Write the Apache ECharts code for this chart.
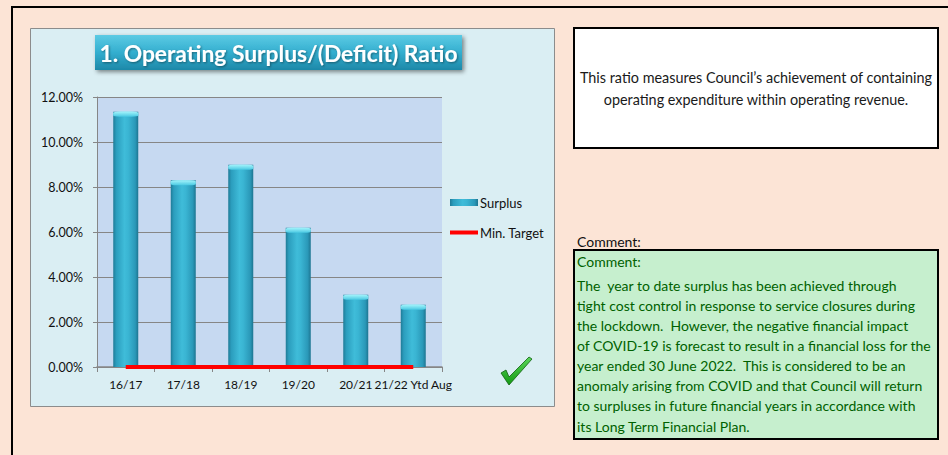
<!DOCTYPE html>
<html>
<head>
<meta charset="utf-8">
<script src="https://cdn.jsdelivr.net/npm/echarts@6/dist/echarts.min.js"></script>
<style>
  html, body { margin: 0; padding: 0; background: #FCE4D6; }
  #chart { width: 948px; height: 455px; }
</style>
</head>
<body>
<div id="chart"></div>
<script>
// Financial years shown on the category axis
const categories = ['16/17', '17/18', '18/19', '19/20', '20/21', '21/22 Ytd Aug'];
// Operating surplus ratio per year (fraction of operating revenue)
const surplus = [0.1135, 0.0830, 0.0899, 0.0619, 0.0321, 0.0277];
// Minimum target ratio
const minTarget = [0, 0, 0, 0, 0, 0];
// Value axis range and step
const axisMin = 0;
const axisMax = 0.12;
const axisStep = 0.02;

const titleText = '1. Operating Surplus/(Deficit) Ratio';
const infoLines = [
  'This ratio measures Council\u2019s achievement of containing',
  'operating expenditure within operating revenue.'
];
const commentHeading = 'Comment:';
const commentLines = [
  'The  year to date surplus has been achieved through',
  'tight cost control in response to service closures during',
  'the lockdown.  However, the negative financial impact',
  'of COVID-19 is forecast to result in a financial loss for the',
  'year ended 30 June 2022.  This is considered to be an',
  'anomaly arising from COVID and that Council will return',
  'to surpluses in future financial years in accordance with',
  'its Long Term Financial Plan.'
];

const FONT = 'Lato, "Noto Sans", sans-serif';

const chart = echarts.init(document.getElementById('chart'), null, { renderer: 'svg' });

const barFill = new echarts.graphic.LinearGradient(0, 0, 1, 0, [
  { offset: 0, color: '#1f7b97' },
  { offset: 0.12, color: '#2b9dbd' },
  { offset: 0.45, color: '#3fbcd9' },
  { offset: 0.6, color: '#3ab5d3' },
  { offset: 0.88, color: '#2a98b8' },
  { offset: 1, color: '#1d7591' }
]);
const capFill = new echarts.graphic.LinearGradient(0, 0, 0, 1, [
  { offset: 0, color: '#a6f5fc' },
  { offset: 1, color: '#48c8e2' }
]);

chart.setOption({
  animation: false,
  textStyle: { fontFamily: FONT },
  graphic: [
    // outer frame lines
    { type: 'rect', z: 0, shape: { x: 11, y: 6, width: 940, height: 2 }, style: { fill: '#000' } },
    { type: 'rect', z: 0, shape: { x: 11, y: 6, width: 2, height: 460 }, style: { fill: '#000' } },
    // chart panel
    { type: 'rect', z: -10, shape: { x: 30.5, y: 28.5, width: 524, height: 378 },
      style: { fill: '#DAEEF3', stroke: '#8c8c8c', lineWidth: 1 } },
    // title banner
    { type: 'rect', z: 5, shape: { x: 95, y: 35, width: 367, height: 35 },
      style: {
        fill: new echarts.graphic.LinearGradient(0, 0, 0, 1, [
          { offset: 0, color: '#5ccbe4' },
          { offset: 0.5, color: '#33aecf' },
          { offset: 1, color: '#1d88a8' }
        ]),
        shadowBlur: 4, shadowOffsetX: 2, shadowOffsetY: 2, shadowColor: 'rgba(0,0,0,0.45)'
      } },
    { type: 'text', z: 6, style: {
        text: titleText, x: 278.5, y: 53, align: 'center', verticalAlign: 'middle',
        font: 'bold 22.8px ' + FONT, fill: '#ffffff',
        textShadowBlur: 2, textShadowOffsetX: 1, textShadowOffsetY: 1, textShadowColor: 'rgba(0,0,0,0.4)'
      } },
    // check mark
    { type: 'polygon', z: 5, shape: { points: [[501, 373], [506, 370], [509, 377], [529, 357], [532, 359], [509, 385]] },
      style: {
        fill: new echarts.graphic.LinearGradient(0, 0, 0, 1, [
          { offset: 0, color: '#5ad65a' }, { offset: 1, color: '#139a13' }
        ]),
        stroke: '#0f5f0f', lineWidth: 0.8
      } },
    // description box
    { type: 'rect', z: 5, shape: { x: 574, y: 28, width: 364, height: 120 },
      style: { fill: '#ffffff', stroke: '#000', lineWidth: 2 } },
    { type: 'text', z: 6, style: {
        text: infoLines.join('\n'), x: 756, y: 88, align: 'center', verticalAlign: 'middle',
        font: '14.4px ' + FONT, fill: '#1a1a1a', lineHeight: 22
      } },
    // comment heading
    { type: 'text', z: 6, style: {
        text: commentHeading, x: 577, y: 241, verticalAlign: 'middle',
        font: '14px ' + FONT, fill: '#111'
      } },
    // comment box
    { type: 'rect', z: 5, shape: { x: 574, y: 250, width: 364, height: 189 },
      style: { fill: '#C6EFCE', stroke: '#000', lineWidth: 2 } },
    { type: 'text', z: 6, style: {
        text: commentHeading, x: 577, y: 261, verticalAlign: 'middle',
        font: '14px ' + FONT, fill: '#006100'
      } },
    { type: 'text', z: 6, style: {
        text: commentLines.join('\n'), x: 577, y: 275,
        font: '14px ' + FONT, fill: '#006100', lineHeight: 20.15
      } }
  ],
  grid: {
    left: 97, top: 97, width: 345, height: 270,
    show: true, backgroundColor: '#C6D9F1', borderWidth: 0
  },
  legend: {
    orient: 'vertical', left: 450, top: 196, itemGap: 17, padding: 0,
    itemWidth: 28, itemHeight: 7,
    textStyle: { fontSize: 13, color: '#111', fontFamily: FONT, padding: [0, 0, 0, -3] },
    data: [
      { name: 'Surplus', icon: 'rect', itemStyle: { color: barFill } },
      { name: 'Min. Target', icon: 'path://M0,0 H28 V4 H0 Z', itemStyle: { color: '#ff0000' } }
    ]
  },
  xAxis: {
    type: 'category', data: categories,
    axisLine: { lineStyle: { color: '#868686', width: 1.5 } },
    axisTick: { show: true, length: 5, lineStyle: { color: '#868686' } },
    axisLabel: { color: '#111', fontSize: 12, margin: 11, fontFamily: FONT, interval: 0 }
  },
  yAxis: {
    type: 'value', min: axisMin, max: axisMax, interval: axisStep,
    axisLine: { show: true, lineStyle: { color: '#868686' } },
    axisTick: { show: true, length: 4, lineStyle: { color: '#868686' } },
    splitLine: { lineStyle: { color: '#868686', width: 1 } },
    axisLabel: {
      color: '#111', fontSize: 12.5, margin: 14, fontFamily: FONT,
      formatter: v => (v * 100).toFixed(2) + '%'
    }
  },
  series: [
    {
      name: 'Surplus', type: 'bar', data: surplus, barWidth: 25, z: 3,
      itemStyle: { color: barFill }
    },
    {
      name: 'Surplus', type: 'pictorialBar', data: surplus, z: 4,
      symbol: 'roundRect', symbolSize: [25, 5], symbolPosition: 'end',
      itemStyle: { color: capFill }, legendHoverLink: false, tooltip: { show: false }
    },
    {
      name: 'Min. Target', type: 'line', data: minTarget, z: 6,
      symbol: 'none', lineStyle: { color: '#ff0000', width: 4 }, itemStyle: { color: '#ff0000' }
    }
  ]
});
</script>
</body>
</html>
